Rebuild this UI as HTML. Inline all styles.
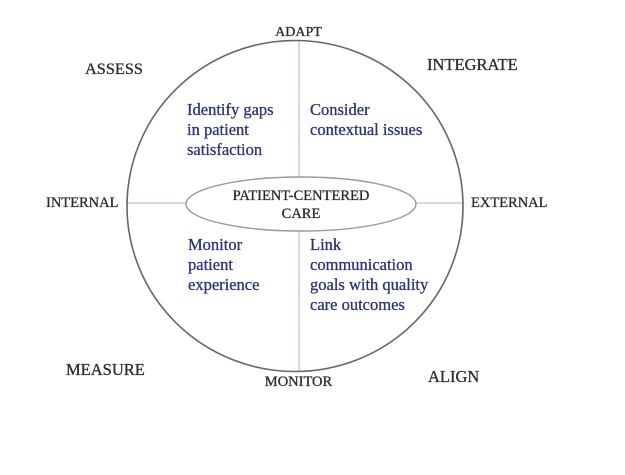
<!DOCTYPE html>
<html><head><meta charset="utf-8"><style>
html,body{margin:0;padding:0;background:#fff;width:625px;height:475px;overflow:hidden}
svg text{font-family:"Liberation Serif",serif}
</style></head><body>
<svg width="625" height="475" xmlns="http://www.w3.org/2000/svg">
<line x1="126" y1="203" x2="464" y2="203" stroke="#c2cfe0" stroke-width="1.5"/>
<line x1="299" y1="40" x2="299" y2="372" stroke="#c2cfe0" stroke-width="1.5"/>
<ellipse cx="295" cy="206" rx="168" ry="165.5" fill="none" stroke="#666" stroke-width="1.6"/>
<ellipse cx="301" cy="204" rx="115" ry="27" fill="#fff" stroke="#9a9a9a" stroke-width="1.4"/>
<g fill="#2b2b2b" stroke="#2b2b2b" stroke-width="0.3" font-size="14.5">
<text x="298.5" y="36" text-anchor="middle" font-size="14">ADAPT</text>
<text x="85" y="74" font-size="16.3">ASSESS</text>
<text x="427" y="70" font-size="16.5">INTEGRATE</text>
<text x="46" y="207">INTERNAL</text>
<text x="471" y="207">EXTERNAL</text>
<text x="66" y="375" font-size="16.5">MEASURE</text>
<text x="298.5" y="386" text-anchor="middle">MONITOR</text>
<text x="428" y="382" font-size="16.5">ALIGN</text>
<text x="301" y="200" text-anchor="middle">PATIENT-CENTERED</text>
<text x="301" y="218" text-anchor="middle">CARE</text>
</g>
<g fill="#2a3378" stroke="#2a3378" stroke-width="0.3" font-size="16.5">
<text x="187" y="115">Identify gaps</text>
<text x="187" y="135">in patient</text>
<text x="187" y="155">satisfaction</text>
<text x="310" y="115">Consider</text>
<text x="310" y="135">contextual issues</text>
<text x="188" y="250">Monitor</text>
<text x="188" y="270">patient</text>
<text x="188" y="290">experience</text>
<text x="310" y="250">Link</text>
<text x="310" y="270">communication</text>
<text x="310" y="290">goals with quality</text>
<text x="310" y="310">care outcomes</text>
</g>
</svg>
</body></html>
